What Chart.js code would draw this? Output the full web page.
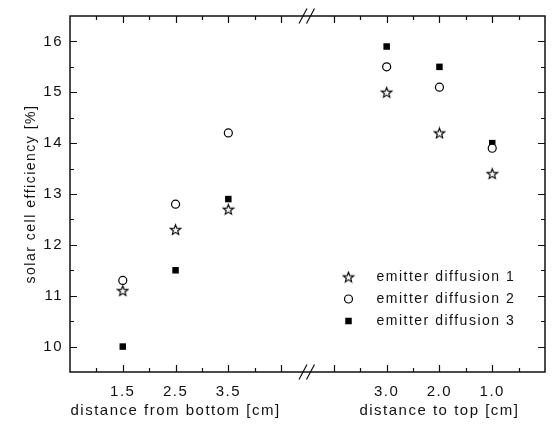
<!DOCTYPE html>
<html><head><meta charset="utf-8">
<script src="https://cdn.jsdelivr.net/npm/chart.js@4/dist/chart.umd.min.js"></script>
<style>html,body{margin:0;padding:0;background:#fff}#wrap{width:556px;height:426px;position:relative}</style>
</head><body><div id="wrap"><canvas id="c"></canvas></div>
<script>
// ---- data ----
const bottomDistances = [1.5, 2.5, 3.5];   // cm (left part of axis)
const topDistances = [3.0, 2.0, 1.0];      // cm (right part of axis)
const seriesNames = ['emitter diffusion 1', 'emitter diffusion 2', 'emitter diffusion 3'];
const diff1Bottom = [11.1, 12.3, 12.7];
const diff1Top = [15.0, 14.2, 13.4];
const diff2Bottom = [11.3, 12.8, 14.2];
const diff2Top = [15.5, 15.1, 13.9];
const diff3Bottom = [10.0, 11.5, 12.9];
const diff3Top = [15.9, 15.5, 14.0];
const xTitleLeft = 'distance from bottom [cm]';
const xTitleRight = 'distance to top [cm]';
const yTitle = 'solar cell efficiency [%]';

// ---- broken axis mapping (slots of 0.5 cm) ----
const LEFT_START = 0.5, RIGHT_START = 4.0, SLOT = 0.5;
const BREAK_SLOT = 9, RIGHT_SLOT0 = 10, MAX_SLOT = 18;
const posBottom = d => (d - LEFT_START) / SLOT;
const posTop = d => RIGHT_SLOT0 + (RIGHT_START - d) / SLOT;
const near = (a, b) => Math.abs(a - b) < 1e-6;

function pts(bottomVals, topVals) {
  return bottomDistances.map((d, i) => ({x: posBottom(d), y: bottomVals[i]}))
    .concat(topDistances.map((d, i) => ({x: posTop(d), y: topVals[i]})));
}

// star marker
function makeStar(size, outer, inner) {
  const c = document.createElement('canvas');
  c.width = size; c.height = size;
  const g = c.getContext('2d');
  const cx = size / 2, cy = size / 2 + 0.5;
  g.beginPath();
  for (let k = 0; k < 10; k++) {
    const r = k % 2 === 0 ? outer : inner;
    const a = -Math.PI / 2 + k * Math.PI / 5;
    const px = cx + r * Math.cos(a), py = cy + r * Math.sin(a);
    k === 0 ? g.moveTo(px, py) : g.lineTo(px, py);
  }
  g.closePath();
  g.fillStyle = '#f6f6f6'; g.fill();
  g.lineWidth = 1.1; g.strokeStyle = '#000'; g.stroke();
  return c;
}
const starImg = makeStar(13, 5.4, 2.3);

const FONT = '"Liberation Sans", Arial, sans-serif';
const SPACING = '1.5px';

const datasets = [
  {label: seriesNames[0], data: pts(diff1Bottom, diff1Top), pointStyle: starImg, pointRadius: 5},
  {label: seriesNames[1], data: pts(diff2Bottom, diff2Top), pointStyle: 'circle', pointRadius: 4,
   backgroundColor: '#fff', borderColor: '#000', pointBorderWidth: 1.2},
  {label: seriesNames[2], data: pts(diff3Bottom, diff3Top), pointStyle: 'rect', pointRadius: 4.6,
   backgroundColor: '#000', borderColor: '#000', pointBorderWidth: 0}
];

const decor = {
  id: 'decor',
  beforeDraw(chart) { chart.ctx.letterSpacing = SPACING; },
  beforeDatasetsDraw(chart) {
    const {ctx, chartArea: a, scales: {x, y}} = chart;
    ctx.save();
    ctx.strokeStyle = '#111';
    ctx.lineWidth = 1.5;
    ctx.strokeRect(a.left, a.top, a.right - a.left, a.bottom - a.top);
    ctx.lineWidth = 1.2;
    ctx.beginPath();
    for (let s = 1; s < MAX_SLOT; s++) {
      if (s === BREAK_SLOT) continue;
      const px = Math.round(x.getPixelForValue(s)) + 0.5;
      const len = s % 2 === 0 ? 7 : 4;
      ctx.moveTo(px, a.top); ctx.lineTo(px, a.top + len);
      ctx.moveTo(px, a.bottom); ctx.lineTo(px, a.bottom - len);
    }
    for (let v = y.min + 0.5; v < y.max - 1e-6; v += 0.5) {
      const py = Math.round(y.getPixelForValue(v)) + 0.5;
      const len = near(v, Math.round(v)) ? 7 : 4;
      ctx.moveTo(a.left, py); ctx.lineTo(a.left + len, py);
      ctx.moveTo(a.right, py); ctx.lineTo(a.right - len, py);
    }
    ctx.stroke();
    // break marks
    const bx = x.getPixelForValue(BREAK_SLOT);
    ctx.lineWidth = 1.2;
    ctx.beginPath();
    [a.top, a.bottom].forEach(ya => {
      [-4.5, 3].forEach(dx => {
        ctx.moveTo(bx + dx - 4, ya + 7.5);
        ctx.lineTo(bx + dx + 4, ya - 7.5);
      });
    });
    ctx.stroke();
    // titles
    ctx.fillStyle = '#111';
    ctx.font = '15px ' + FONT;
    ctx.textAlign = 'center';
    ctx.textBaseline = 'middle';
    ctx.fillText(xTitleLeft, x.getPixelForValue(BREAK_SLOT / 2 - 0.5), 411);
    ctx.fillText(xTitleRight, x.getPixelForValue((RIGHT_SLOT0 + MAX_SLOT) / 2), 411);
    ctx.save();
    ctx.translate(31, (a.top + a.bottom) / 2);
    ctx.rotate(-Math.PI / 2);
    ctx.font = '14px ' + FONT;
    ctx.fillText(yTitle, 0, 0);
    ctx.restore();
    ctx.restore();
  },
  afterDatasetsDraw(chart, args, opts) {
    const {ctx} = chart;
    ctx.save();
    ctx.font = '14px ' + FONT;
    ctx.textAlign = 'left';
    ctx.textBaseline = 'middle';
    chart.data.datasets.forEach((ds, i) => {
      const yy = opts.y + i * opts.rowGap;
      ctx.fillStyle = ds.backgroundColor || '#fff';
      ctx.strokeStyle = ds.borderColor || '#000';
      ctx.lineWidth = ds.pointBorderWidth ?? 1;
      Chart.helpers.drawPoint(ctx, {pointStyle: ds.pointStyle, radius: ds.pointRadius, rotation: 0, borderWidth: ds.pointBorderWidth ?? 1}, opts.x, yy);
      ctx.fillStyle = '#111';
      ctx.fillText(ds.label, opts.x + opts.textGap, yy);
    });
    ctx.restore();
  }
};

new Chart(document.getElementById('c'), {
  type: 'scatter',
  data: {datasets},
  plugins: [decor],
  options: {
    responsive: true,
    maintainAspectRatio: false,
    animation: false,
    events: [],
    devicePixelRatio: 1,
    layout: {padding: {top: 13, right: 4, left: 0, bottom: 0}},
    plugins: {
      legend: {display: false},
      tooltip: {enabled: false},
      decor: {x: 348.5, y: 277, rowGap: 22, textGap: 28}
    },
    scales: {
      x: {
        type: 'linear', min: 0, max: MAX_SLOT,
        grid: {display: false, drawTicks: false},
        border: {display: false},
        afterFit: s => { s.height = 54; },
        ticks: {
          stepSize: 1, autoSkip: false, maxRotation: 0, padding: 11,
          color: '#111', font: {family: FONT, size: 15},
          callback: v => {
            if (v < BREAK_SLOT) {
              const d = LEFT_START + v * SLOT;
              return bottomDistances.some(b => near(b, d)) ? d.toFixed(1) : '';
            }
            if (v > BREAK_SLOT) {
              const d = RIGHT_START - (v - RIGHT_SLOT0) * SLOT;
              return topDistances.some(b => near(b, d)) ? d.toFixed(1) : '';
            }
            return '';
          }
        }
      },
      y: {
        type: 'linear', min: 9.5, max: 16.5,
        grid: {display: false, drawTicks: false},
        border: {display: false},
        afterFit: s => { s.width = 70; },
        ticks: {
          stepSize: 0.5, autoSkip: false, padding: 7,
          color: '#111', font: {family: FONT, size: 15},
          callback: v => near(v, Math.round(v)) ? String(Math.round(v)) : ''
        }
      }
    }
  }
});
</script>
</body></html>
